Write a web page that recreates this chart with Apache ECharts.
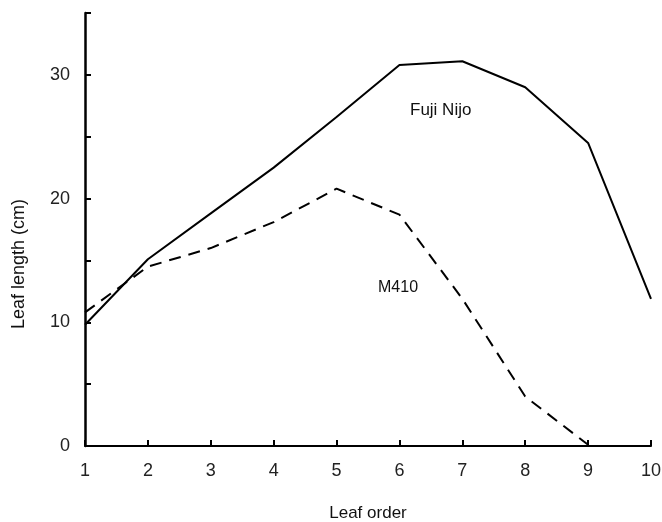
<!DOCTYPE html>
<html>
<head>
<meta charset="utf-8">
<script src="https://cdn.jsdelivr.net/npm/echarts@6/dist/echarts.min.js"></script>
<style>
    * { margin: 0; padding: 0; }
    #main { width: 662px; height: 522px; }
</style>
</head>
<body>
<div id="main"></div>
<script>
    // leaf order 1..10
    var leafOrder = [1, 2, 3, 4, 5, 6, 7, 8, 9, 10];
    // leaf length (cm)
    var fujiNijo = [9.8, 15.1, 18.8, 22.5, 26.6, 30.8, 31.1, 29.0, 24.5, 11.9];
    var m410 = [10.8, 14.5, 16.0, 18.1, 20.8, 18.7, 11.9, 4.0, 0.1];

    function pairs(ys) {
        var out = [];
        for (var i = 0; i < ys.length; i++) {
            out.push([leafOrder[i], ys[i]]);
        }
        return out;
    }

    var font = '"Liberation Sans", Arial, sans-serif';
    var myChart = echarts.init(document.getElementById('main'));

    var option = {
        animation: false,
        backgroundColor: '#fff',
        grid: { left: 85, right: 11, top: 13, bottom: 76, outerBoundsMode: 'none', containLabel: false },
        xAxis: {
            type: 'value',
            min: 1,
            max: 10,
            interval: 1,
            name: 'Leaf order',
            nameLocation: 'middle',
            nameGap: 59,
            nameTextStyle: { color: '#111', fontSize: 17, fontFamily: font },
            axisLine: { lineStyle: { color: '#000', width: 2 } },
            axisTick: { inside: true, length: 6, lineStyle: { color: '#000', width: 2 } },
            axisLabel: { color: '#222', fontSize: 18, fontFamily: font, margin: 16 },
            splitLine: { show: false }
        },
        yAxis: {
            type: 'value',
            min: 0,
            max: 35,
            interval: 5,
            axisLine: { lineStyle: { color: '#000', width: 2.5 } },
            axisTick: { inside: true, length: 6, lineStyle: { color: '#000', width: 2 } },
            axisLabel: {
                color: '#222', fontSize: 18, fontFamily: font, margin: 15,
                formatter: function (v) { return v % 10 === 0 && v < 35 ? String(v) : ''; }
            },
            splitLine: { show: false }
        },
        series: [{
            name: 'Fuji Nijo',
            type: 'line',
            data: pairs(fujiNijo),
            symbol: 'none',
            lineStyle: { color: '#000', width: 2 }
        }, {
            name: 'M410',
            type: 'line',
            data: pairs(m410),
            symbol: 'none',
            lineStyle: { color: '#000', width: 2, type: [12, 8] }
        }],
        graphic: [{
            type: 'text',
            x: 19, y: 264,
            rotation: Math.PI / 2,
            style: {
                text: 'Leaf length (cm)', fill: '#111', fontSize: 18, fontFamily: font,
                textAlign: 'center', textVerticalAlign: 'middle'
            }
        }, {
            type: 'text',
            x: 410, y: 110,
            style: {
                text: 'Fuji Nijo', fill: '#111', fontSize: 17, fontFamily: font,
                textAlign: 'left', textVerticalAlign: 'middle'
            }
        }, {
            type: 'text',
            x: 378, y: 288,
            style: {
                text: 'M410', fill: '#111', fontSize: 16, fontFamily: font,
                textAlign: 'left', textVerticalAlign: 'middle'
            }
        }]
    };

    myChart.setOption(option);
</script>
</body>
</html>
